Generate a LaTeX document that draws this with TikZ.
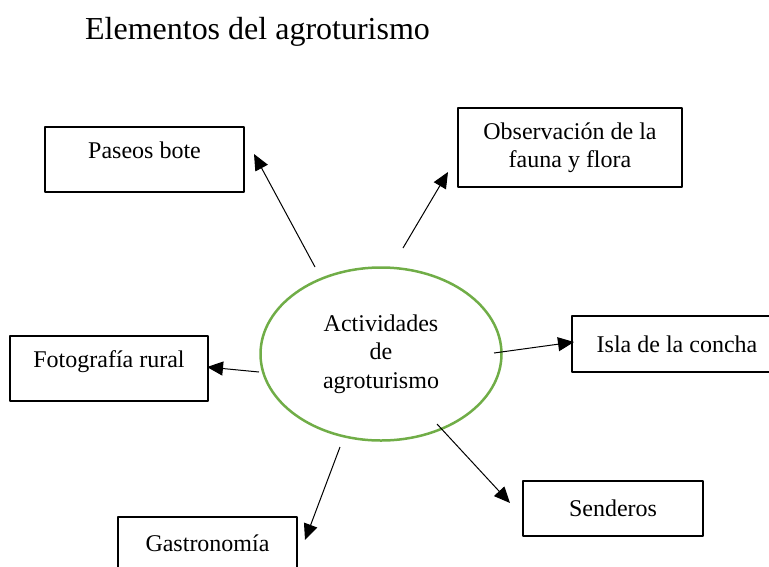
\documentclass[tikz,border=0pt]{standalone}
\usepackage{fontspec}
\setmainfont{Liberation Serif}
\usetikzlibrary{arrows.meta,shapes.geometric}
\definecolor{verde}{RGB}{112,173,71}
\begin{document}
\begin{tikzpicture}[x=1pt, y=-1pt, font=\fontsize{24}{28.5}\selectfont, line join=round, >={Triangle[length=16pt,width=14pt]},
    caja/.style={draw, line width=1.2pt, inner sep=0pt, align=center}]
    \useasboundingbox (0,0) rectangle (769,566);
    \clip (0,0) rectangle (769,566);
    \node[anchor=base, font=\fontsize{32}{38}\selectfont] (titulo) at (257.5,39) {Elementos del agroturismo};
    % cajas
    \node[caja, minimum width=199pt, minimum height=65pt, text depth=18pt] (paseos) at (144.5,159.5) {Paseos bote};
    \node[caja, minimum width=224pt, minimum height=79pt] (obs) at (570,147.5) {Observación de la\\fauna y flora};
    \node[caja, minimum width=198pt, minimum height=65pt, text depth=18pt] (foto) at (109,368.5) {Fotografía rural};
    \node[caja, minimum width=210pt, minimum height=56pt] (isla) at (677,344) {Isla de la concha};
    \node[caja, minimum width=180pt, minimum height=55pt] (send) at (613,508.5) {Senderos};
    \node[caja, minimum width=179pt, minimum height=52pt] (gastro) at (207.5,543) {Gastronomía};
    \node[draw=verde, line width=2.5pt, ellipse, minimum width=241pt, minimum height=173pt, inner sep=0pt, align=center] (act) at (381,354) {Actividades\\de\\agroturismo};
    % flechas
    \coordinate (a1) at (315,267); \coordinate (b1) at (254,154);
    \coordinate (a2) at (403,248); \coordinate (b2) at (448,172);
    \coordinate (a3) at (259,372); \coordinate (b3) at (207,367);
    \coordinate (a4) at (494,353); \coordinate (b4) at (574,342);
    \coordinate (a5) at (437,424); \coordinate (b5) at (510,503);
    \coordinate (a6) at (340,447); \coordinate (b6) at (305,540);
    \foreach \i in {1,...,6}\draw[->, line width=1pt] (a\i)--(b\i);
\end{tikzpicture}
\end{document}
